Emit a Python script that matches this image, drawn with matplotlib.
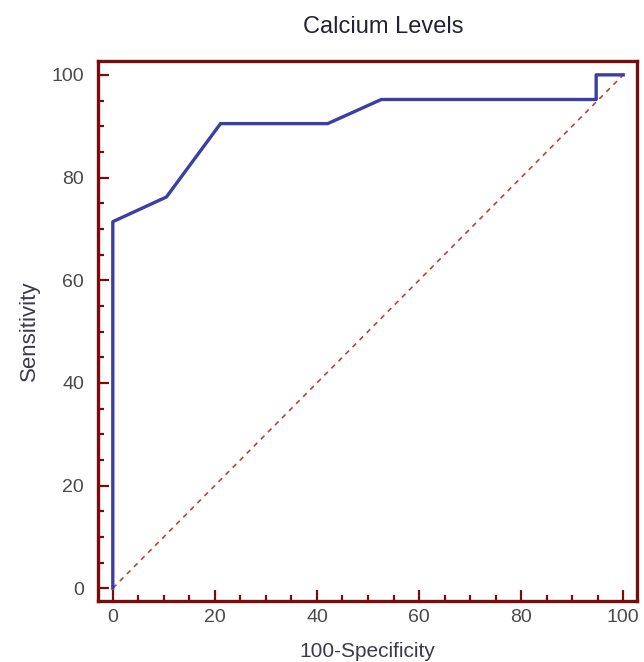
import matplotlib.pyplot as plt
from matplotlib.ticker import MultipleLocator

plt.rcParams['font.family'] = ['Liberation Sans', 'DejaVu Sans']

# ROC curve points
fpr = [0, 0, 10.5, 21.1, 42.1, 52.6, 94.7, 94.7, 100]
tpr = [0, 71.4, 76.2, 90.5, 90.5, 95.2, 95.2, 100, 100]

fig = plt.figure(figsize=(6.44, 6.62), dpi=100)
ax = fig.add_axes([98/644, 61/662, 539/644, 540/662])

ax.plot([0, 100], [0, 100], ls=(0, (3, 3)), color='#b5453f', lw=1.2)
ax.plot(fpr, tpr, color='#3b3fa3', lw=2.4)

ax.set_xlim(-2.9, 102.7)
ax.set_ylim(-2.5, 102.7)

for s in ax.spines.values():
    s.set_color('#7a0c0c')
    s.set_linewidth(2.4)

ax.xaxis.set_major_locator(MultipleLocator(20))
ax.xaxis.set_minor_locator(MultipleLocator(5))
ax.yaxis.set_major_locator(MultipleLocator(20))
ax.yaxis.set_minor_locator(MultipleLocator(5))
ax.tick_params(which='both', direction='in', color='#7a0c0c', width=1.6,
               labelsize=14, labelcolor='#4a4a4a')
ax.tick_params(axis='x', which='both', pad=6)
ax.tick_params(axis='y', which='both', pad=10)
ax.tick_params(which='major', length=8)
ax.tick_params(which='minor', length=4)

ax.set_title('Calcium Levels', fontsize=17, color='#222233', pad=20,
             x=0.53)
ax.set_xlabel('100-Specificity', fontsize=15, color='#3a3a4a', labelpad=11)
ax.set_ylabel('Sensitivity', fontsize=16, color='#3a3a4a', labelpad=8)

fig.savefig('out.png', dpi=100)
